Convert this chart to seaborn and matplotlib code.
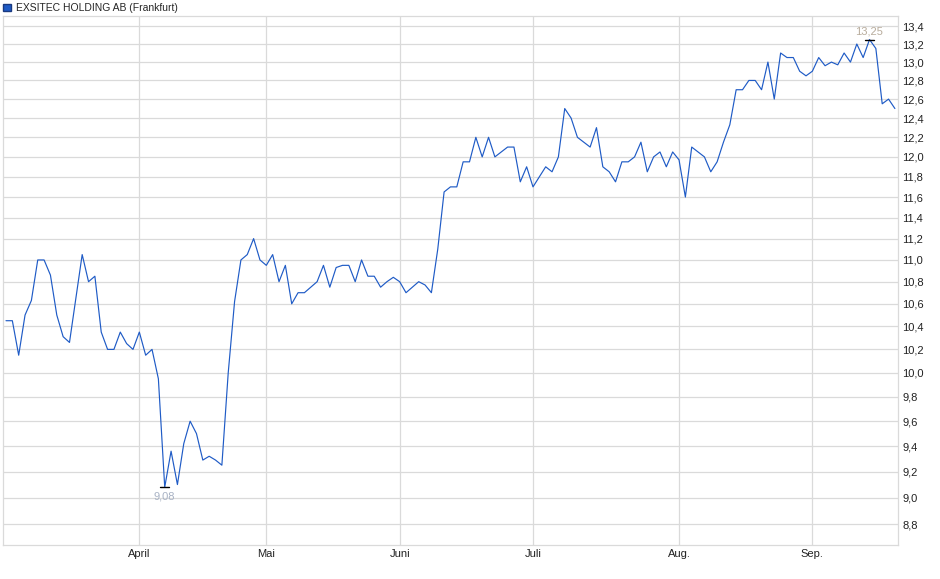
import pandas as pd
import matplotlib.pyplot as plt
import seaborn as sns
from matplotlib.patches import Patch
from matplotlib.ticker import FixedLocator, NullLocator, NullFormatter

# daily closing prices (Frankfurt)
prices = [10.45, 10.45, 10.15, 10.50, 10.63, 11.00, 11.00, 10.86, 10.50, 10.31,
          10.26, 10.65, 11.05, 10.80, 10.85, 10.35, 10.20, 10.20, 10.35, 10.25,
          10.20, 10.35, 10.15, 10.20, 9.95, 9.08, 9.36, 9.10, 9.42, 9.60,
          9.50, 9.29, 9.32, 9.29, 9.25, 10.00, 10.62, 11.00, 11.05, 11.20,
          11.00, 10.95, 11.05, 10.80, 10.95, 10.60, 10.70, 10.70, 10.75, 10.80,
          10.95, 10.75, 10.93, 10.95, 10.95, 10.80, 11.00, 10.85, 10.85, 10.75,
          10.80, 10.84, 10.80, 10.70, 10.75, 10.80, 10.77, 10.70, 11.10, 11.65,
          11.70, 11.70, 11.95, 11.95, 12.20, 12.00, 12.20, 12.00, 12.05, 12.10,
          12.10, 11.75, 11.90, 11.70, 11.80, 11.90, 11.85, 12.00, 12.50, 12.40,
          12.20, 12.15, 12.10, 12.30, 11.90, 11.85, 11.75, 11.95, 11.95, 12.00,
          12.15, 11.85, 12.00, 12.05, 11.90, 12.05, 11.97, 11.60, 12.10, 12.05,
          12.00, 11.85, 11.95, 12.15, 12.33, 12.70, 12.70, 12.80, 12.80, 12.70,
          13.00, 12.60, 13.10, 13.05, 13.05, 12.90, 12.85, 12.90, 13.05, 12.96,
          13.00, 12.97, 13.10, 13.00, 13.20, 13.05, 13.25, 13.15, 12.55, 12.60,
          12.50]

# first trading day of each month (index into prices)
month_starts = [21, 41, 62, 83, 106, 127]
month_labels = ["April", "Mai", "Juni", "Juli", "Aug.", "Sep."]

y_ticks = [8.8, 9.0, 9.2, 9.4, 9.6, 9.8, 10.0, 10.2, 10.4, 10.6, 10.8,
           11.0, 11.2, 11.4, 11.6, 11.8, 12.0, 12.2, 12.4, 12.6, 12.8,
           13.0, 13.2, 13.4]

series_name = "EXSITEC HOLDING AB (Frankfurt)"

df = pd.DataFrame({"day": range(len(prices)), "price": prices})

sns.set_style("white")
plt.rcParams["font.family"] = ["Liberation Sans", "DejaVu Sans"]

line_color = "#1f5bc6"
grid_color = "#dadada"

fig = plt.figure(figsize=(9.4, 5.79), dpi=100)
ax = fig.add_axes([0.0032, 0.0582, 0.952, 0.9142])

sns.lineplot(data=df, x="day", y="price", color=line_color, linewidth=0.85, ax=ax)

# log price axis on the right
ax.set_yscale("log")
ax.set_ylim(8.645, 13.516)
ax.set_xlim(-0.47, 140.47)
ax.yaxis.tick_right()
ax.yaxis.set_major_locator(FixedLocator(y_ticks))
ax.yaxis.set_minor_locator(NullLocator())
ax.yaxis.set_minor_formatter(NullFormatter())
ax.set_yticklabels([f"{t:.1f}".replace(".", ",") for t in y_ticks])

ax.set_xticks(month_starts)
ax.set_xticklabels(month_labels)
ax.tick_params(axis="y", length=0, pad=3, labelsize=8, colors="#222222")
ax.tick_params(axis="x", length=0, pad=3, labelsize=8, colors="#222222")
ax.set_xlabel("")
ax.set_ylabel("")

ax.grid(True, color=grid_color, linewidth=0.9)
for side in ["left", "right", "top", "bottom"]:
    ax.spines[side].set_color(grid_color)
    ax.spines[side].set_linewidth(0.9)

# min / max markers
i_min = prices.index(min(prices))
i_max = prices.index(max(prices))
for i, va, dy, col in [(i_min, "top", -3, "#a8b2c4"), (i_max, "bottom", 2.5, "#b8ac9c")]:
    v = prices[i]
    ax.plot([i - 0.68, i + 0.68], [v, v], color="black", linewidth=1)
    ax.annotate(f"{v:.2f}".replace(".", ","), xy=(i, v), xytext=(0, dy),
                textcoords="offset points", ha="center", va=va,
                fontsize=8, color=col)

fig.legend(handles=[Patch(facecolor=line_color, edgecolor="#1a3a80", label=series_name)],
           loc="upper left", bbox_to_anchor=(0.0, 1.0), frameon=False, fontsize=7.5,
           handlelength=0.8, handleheight=0.8, handletextpad=0.4,
           borderaxespad=0.1, borderpad=0.2)

fig.savefig("out.png", dpi=100)
